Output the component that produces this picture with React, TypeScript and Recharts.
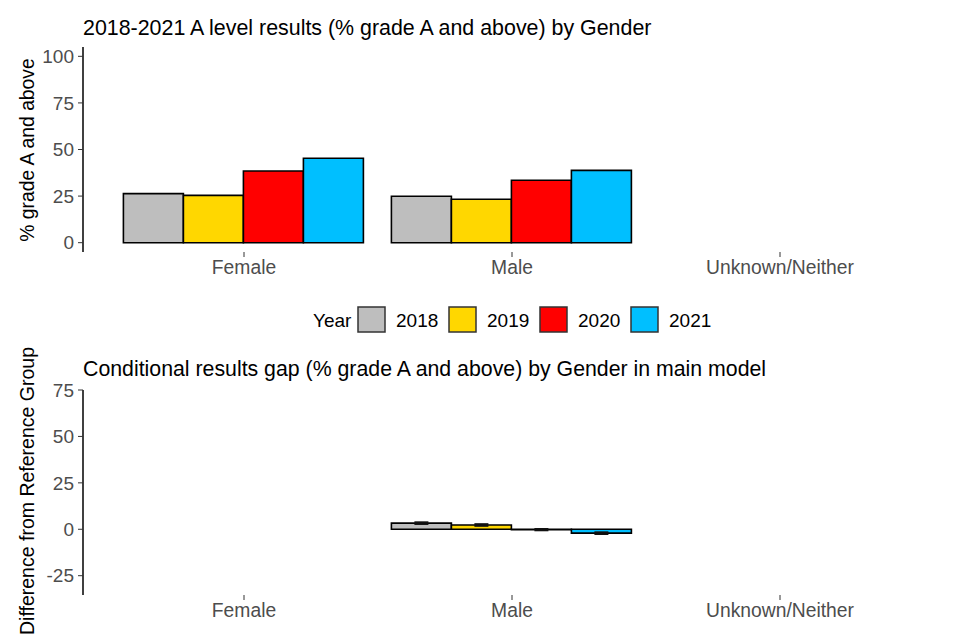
import { BarChart, Bar, XAxis, YAxis, ErrorBar } from "recharts";

// categories and legend
const genders = ["Female", "Male", "Unknown/Neither"];
const years = ["2018", "2019", "2020", "2021"];
const yearColors = ["#BEBEBE", "#FFD700", "#FF0000", "#00BFFF"];

// % grade A and above, by gender (Female, Male, Unknown/Neither)
const results2018 = [26.3, 24.9, null];
const results2019 = [25.4, 23.3, null];
const results2020 = [38.5, 33.5, null];
const results2021 = [45.3, 38.8, null];

// conditional gap vs reference group (Female is the reference)
const gap2018 = [null, 3.3, null];
const gap2019 = [null, 2.3, null];
const gap2020 = [null, -0.2, null];
const gap2021 = [null, -2.1, null];
const gapErr2018 = [null, 0.5, null];
const gapErr2019 = [null, 0.5, null];
const gapErr2020 = [null, 0.4, null];
const gapErr2021 = [null, 0.5, null];

const topTicks = [0, 25, 50, 75, 100];
const bottomTicks = [-25, 0, 25, 50, 75];

const resultsByYear = [results2018, results2019, results2020, results2021];
const gapByYear = [gap2018, gap2019, gap2020, gap2021];
const gapErrByYear = [gapErr2018, gapErr2019, gapErr2020, gapErr2021];

const topData = genders.map((g, i) => {
  const row: Record<string, any> = { gender: g };
  years.forEach((y, j) => (row["y" + y] = resultsByYear[j][i]));
  return row;
});

const bottomData = genders.map((g, i) => {
  const row: Record<string, any> = { gender: g };
  years.forEach((y, j) => {
    row["y" + y] = gapByYear[j][i];
    row["e" + y] = gapErrByYear[j][i];
  });
  return row;
});

const FONT = "'Liberation Sans', Arial, Helvetica, sans-serif";
const xTickStyle = { fill: "#4D4D4D", fontSize: 19.3 };
const yTickStyle = { fill: "#4D4D4D", fontSize: 19 };

function Panel({ data, domain, ticks, withErrors }: any) {
  return (
    <BarChart
      width={960}
      height={282}
      data={data}
      margin={{ top: 47, right: 19, left: 0, bottom: 0 }}
      barCategoryGap="5%"
      barGap={0}
    >
      <XAxis
        dataKey="gender"
        axisLine={false}
        tickLine={{ stroke: "#333" }}
        tickSize={5}
        tickMargin={3}
        height={30}
        tick={xTickStyle}
        padding={{ left: 27, right: 27 }}
        interval={0}
      />
      <YAxis
        width={83}
        domain={domain}
        ticks={ticks}
        allowDataOverflow
        axisLine={{ stroke: "#000", strokeWidth: 1.5 }}
        tickLine={{ stroke: "#333" }}
        tickSize={5}
        tickMargin={4}
        tick={yTickStyle}
        interval={0}
      />
      {years.map((y, j) => (
        <Bar
          key={y}
          dataKey={"y" + y}
          fill={yearColors[j]}
          stroke="#000"
          strokeWidth={1.6}
          isAnimationActive={false}
        >
          {withErrors && (
            <ErrorBar
              dataKey={"e" + y}
              width={7}
              stroke="#111"
              strokeWidth={1.8}
              isAnimationActive={false}
            />
          )}
        </Bar>
      ))}
    </BarChart>
  );
}

export default function App() {
  return (
    <div
      style={{
        position: "absolute",
        left: 0,
        top: 0,
        width: 960,
        height: 640,
        background: "#fff",
        fontFamily: FONT,
      }}
    >
      <div style={{ position: "absolute", left: 0, top: 0 }}>
        <Panel data={topData} domain={[-5, 105]} ticks={topTicks} />
      </div>
      <div style={{ position: "absolute", left: 0, top: 343 }}>
        <Panel
          data={bottomData}
          domain={[-35.4, 75]}
          ticks={bottomTicks}
          withErrors
        />
      </div>
      <svg
        width={960}
        height={640}
        style={{ position: "absolute", left: 0, top: 0, pointerEvents: "none" }}
        fontFamily={FONT}
      >
        <text x={83} y={35} fontSize={21.4} fill="#000">
          2018-2021 A level results (% grade A and above) by Gender
        </text>
        <text
          x={27}
          y={150}
          fontSize={19.3}
          fill="#000"
          textAnchor="middle"
          dominantBaseline="central"
          transform="rotate(-90 27 150)"
        >
          % grade A and above
        </text>

        <text x={313} y={320} fontSize={19} fill="#000" dominantBaseline="central">
          Year
        </text>
        {years.map((y, j) => (
          <g key={y}>
            <rect
              x={358 + j * 91}
              y={307}
              width={27}
              height={25}
              fill={yearColors[j]}
              stroke="#333"
              strokeWidth={1.5}
            />
            <text
              x={396 + j * 91}
              y={320}
              fontSize={19}
              fill="#000"
              dominantBaseline="central"
            >
              {y}
            </text>
          </g>
        ))}

        <text x={83} y={376} fontSize={21.3} fill="#000">
          Conditional results gap (% grade A and above) by Gender in main model
        </text>
        <text
          x={27}
          y={491}
          fontSize={19.5}
          fill="#000"
          textAnchor="middle"
          dominantBaseline="central"
          transform="rotate(-90 27 491)"
        >
          Difference from Reference Group
        </text>
      </svg>
    </div>
  );
}
